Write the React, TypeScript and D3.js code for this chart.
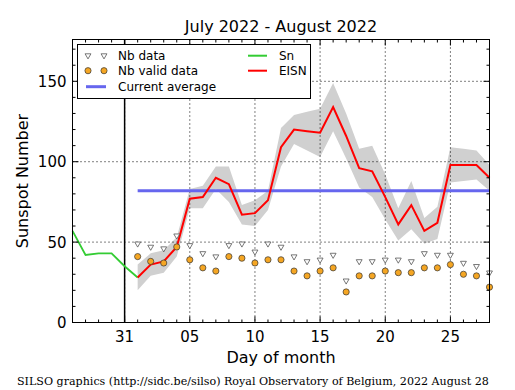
import React from "react";
import * as d3 from "d3";

// chart size and plot frame (pixels)
const W = 515;
const H = 390;
const frame = { left: 72.5, right: 489.5, top: 39.5, bottom: 322.5 };

// Sn: daily sunspot number, last days of July
const snDates = ["2022-07-27", "2022-07-28", "2022-07-29", "2022-07-30", "2022-07-31", "2022-08-01"];
const snValues = [57, 42, 43, 43, 35, 28];

// EISN and stations, August 1..28
const eisnStart = "2022-08-01";
const eisnValues = [28, 36, 38, 47, 77, 78, 90, 86, 67, 68, 76, 109, 120, 119, 118, 134, 116, 96, 94, 78, 61, 73, 57, 62, 98, 98, 98, 90];
const eisnError = [8, 7, 7, 6, 6, 7, 7, 11, 6, 8, 6, 12, 9, 12, 15, 15, 14, 12, 16, 14, 10, 15, 8, 10, 11, 10, 9, 8];
const nbData = [49, 47, 46, 54, 48, 43, 41, 48, 49, 44, 49, 47, 41, 38, 39, 42, 26, 38, 38, 39, 39, 38, 43, 42, 42, 37, 35, 31];
const nbValid = [41, 38, 37, 47, 39, 34, 32, 41, 40, 37, 39, 39, 32, 29, 32, 34, 19, 29, 29, 32, 31, 31, 34, 34, 36, 30, 29, 22];
const currentAverage = 82;

// axes
const xDomain = ["2022-07-27", "2022-08-28"];
const xTickDates = ["2022-07-31", "2022-08-05", "2022-08-10", "2022-08-15", "2022-08-20", "2022-08-25"];
const monthStart = "2022-07-31";
const yMax = 176;
const yTicks = [0, 50, 100, 150];

const parse = d3.timeParse("%Y-%m-%d");
const fmtDay = d3.timeFormat("%d");

const font = "DejaVu Sans, sans-serif";

export default function App() {
  const x = d3.scaleTime()
    .domain(xDomain.map((d) => parse(d)!))
    .range([frame.left, frame.right]);
  const y = d3.scaleLinear().domain([0, yMax]).range([frame.bottom, frame.top]);

  const start = parse(eisnStart)!;
  const eisnDates = eisnValues.map((_, i) => d3.timeDay.offset(start, i));

  const sn = snValues.map((v, i) => ({ d: parse(snDates[i])!, v }));
  const eisn = eisnValues.map((v, i) => ({ d: eisnDates[i], v, e: eisnError[i] }));

  const line = d3.line<{ d: Date; v: number }>()
    .x((p) => x(p.d))
    .y((p) => y(p.v));
  const band = d3.area<{ d: Date; v: number; e: number }>()
    .x((p) => x(p.d))
    .y0((p) => y(p.v - p.e))
    .y1((p) => y(p.v + p.e));

  const tri = d3.symbol(d3.symbolTriangle, 15)()!;

  // minor ticks every day / every 10
  const dayTicks = d3.timeDay.range(x.domain()[0], d3.timeDay.offset(x.domain()[1], 1));
  const yMinor = d3.range(0, yMax, 10);
  const majorX = xTickDates.map((d) => parse(d)!);

  const orange = "#f5a623";
  const blue = "#6666ee";
  const green = "#33cc33";
  const r = 3.1;

  return (
    <svg width={W} height={H} style={{ position: "absolute", left: 0, top: 0, background: "#fff" }}
      fontFamily={font}>
      <rect width={W} height={H} fill="#fff" />

      {/* uncertainty band */}
      <path d={band(eisn)!} fill="#d0d0d0" stroke="none" />

      {/* grid */}
      <g stroke="#000" strokeWidth={1} strokeDasharray="1,3">
        {majorX.map((d, i) => (
          <line key={i} x1={x(d)} x2={x(d)} y1={frame.top} y2={frame.bottom} />
        ))}
        {yTicks.filter((t) => t > 0).map((t) => (
          <line key={t} x1={frame.left} x2={frame.right} y1={y(t)} y2={y(t)} />
        ))}
      </g>

      {/* month separator */}
      <line x1={x(parse(monthStart)!)} x2={x(parse(monthStart)!)} y1={frame.top} y2={frame.bottom}
        stroke="#000" strokeWidth={1.5} />

      {/* current average */}
      <line x1={x(start)} x2={frame.right} y1={y(currentAverage)} y2={y(currentAverage)}
        stroke={blue} strokeWidth={3} />

      {/* Sn and EISN */}
      <path d={line(sn)!} fill="none" stroke={green} strokeWidth={1.8} />
      <path d={line(eisn)!} fill="none" stroke="#ff0000" strokeWidth={2} />

      {/* stations */}
      {nbData.map((v, i) => (
        <path key={"t" + i} d={tri} transform={`translate(${x(eisnDates[i])},${y(v)}) rotate(180)`}
          fill="#fff" stroke="#555" strokeWidth={0.8} />
      ))}
      {nbValid.map((v, i) => (
        <circle key={"c" + i} cx={x(eisnDates[i])} cy={y(v)} r={r}
          fill={orange} stroke="#333" strokeWidth={0.7} />
      ))}

      {/* frame and ticks */}
      <rect x={frame.left} y={frame.top} width={frame.right - frame.left} height={frame.bottom - frame.top}
        fill="none" stroke="#000" strokeWidth={1} />
      <g stroke="#000" strokeWidth={1}>
        {dayTicks.map((d, i) => {
          const major = majorX.some((m) => +m === +d);
          const len = major ? 6 : 3;
          const xx = x(d);
          return (
            <g key={"dx" + i}>
              <line x1={xx} x2={xx} y1={frame.bottom} y2={frame.bottom - len} />
              <line x1={xx} x2={xx} y1={frame.top} y2={frame.top + len} />
            </g>
          );
        })}
        {yMinor.map((t) => {
          const major = yTicks.includes(t);
          const len = major ? 6 : 3;
          return (
            <g key={"dy" + t}>
              <line x1={frame.left} x2={frame.left + len} y1={y(t)} y2={y(t)} />
              <line x1={frame.right} x2={frame.right - len} y1={y(t)} y2={y(t)} />
            </g>
          );
        })}
      </g>

      {/* tick labels */}
      <g fontSize={15} fill="#000">
        {majorX.map((d, i) => (
          <text key={i} x={x(d)} y={frame.bottom + 19} textAnchor="middle">{fmtDay(d)}</text>
        ))}
        {yTicks.map((t) => (
          <text key={t} x={frame.left - 6} y={y(t) + 5.5} textAnchor="end">{t}</text>
        ))}
      </g>

      {/* titles */}
      <text x={(frame.left + frame.right) / 2} y={32} textAnchor="middle" fontSize={16}>
        July 2022 - August 2022
      </text>
      <text x={(frame.left + frame.right) / 2} y={363} textAnchor="middle" fontSize={16}>
        Day of month
      </text>
      <text transform={`translate(28,${(frame.top + frame.bottom) / 2}) rotate(-90)`} textAnchor="middle" fontSize={16}>
        Sunspot Number
      </text>
      <text x={17} y={385} fontSize={11.1} fontFamily="DejaVu Serif, serif">
        SILSO graphics (http://sidc.be/silso) Royal Observatory of Belgium, 2022 August 28
      </text>

      {/* legend */}
      <g fontSize={12}>
        <rect x={77.5} y={44.5} width={233} height={54} fill="#fff" stroke="#000" strokeWidth={1} />
        <path d={tri} transform="translate(88,55.5) rotate(180)" fill="#fff" stroke="#555" strokeWidth={0.8} />
        <path d={tri} transform="translate(104,55.5) rotate(180)" fill="#fff" stroke="#555" strokeWidth={0.8} />
        <text x={118} y={60}>Nb data</text>
        <circle cx={88} cy={70.7} r={r} fill={orange} stroke="#333" strokeWidth={0.7} />
        <circle cx={104} cy={70.7} r={r} fill={orange} stroke="#333" strokeWidth={0.7} />
        <text x={118} y={75}>Nb valid data</text>
        <line x1={86} x2={106} y1={86.7} y2={86.7} stroke={blue} strokeWidth={3} />
        <text x={118} y={91}>Current average</text>
        <line x1={248} x2={267} y1={55.7} y2={55.7} stroke={green} strokeWidth={2} />
        <text x={279} y={60}>Sn</text>
        <line x1={248} x2={267} y1={70.7} y2={70.7} stroke="#ff0000" strokeWidth={2} />
        <text x={279} y={75}>EISN</text>
      </g>
    </svg>
  );
}
